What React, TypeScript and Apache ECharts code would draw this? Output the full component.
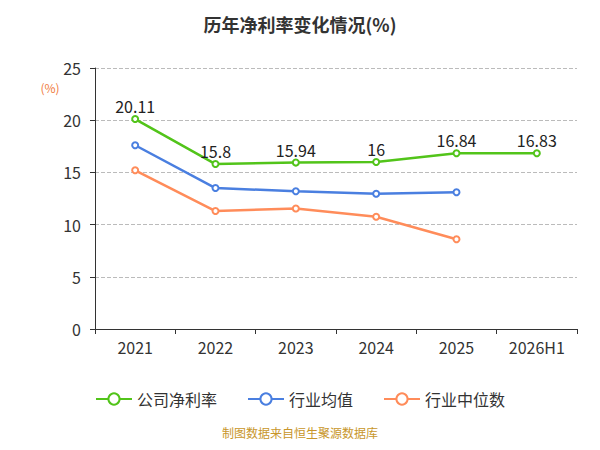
import React, { useEffect, useRef } from 'react'
import * as echarts from 'echarts'

const years = ['2021', '2022', '2023', '2024', '2025', '2026H1']
const companyMargin = [20.11, 15.8, 15.94, 16, 16.84, 16.83]
const industryAvg = [17.6, 13.5, 13.2, 12.95, 13.1, null]
const industryMedian = [15.2, 11.3, 11.55, 10.75, 8.6, null]

const font = 'Noto Sans CJK SC'

export default function App() {
  const chartRef = useRef(null)

  useEffect(() => {
    const chart = echarts.init(chartRef.current, null, { renderer: 'svg' })
    const line = (name: string, data: any[], color: string, labels: boolean) => ({
      name,
      type: 'line',
      data,
      symbol: 'emptyCircle',
      symbolSize: 6,
      itemStyle: { color },
      lineStyle: { color, width: 2.5 },
      label: labels
        ? { show: true, position: 'top', fontSize: 16, color: '#222', distance: 1, fontFamily: font }
        : { show: false },
    })
    chart.setOption({
      animation: false,
      textStyle: { fontFamily: font },
      title: {
        text: '历年净利率变化情况(%)',
        left: 'center',
        top: 2,
        textStyle: { fontSize: 18, fontWeight: 'bold', color: '#333', fontFamily: font },
      },
      grid: { left: 87, right: 15, top: 60, bottom: 113 },
      xAxis: {
        type: 'category',
        data: years,
        axisLine: { lineStyle: { color: '#333' } },
        axisTick: { show: true, lineStyle: { color: '#333' } },
        axisLabel: { fontSize: 16, color: '#333', margin: 10 },
      },
      yAxis: {
        type: 'value',
        min: 0,
        max: 25,
        interval: 5,
        name: '(%)',
        nameLocation: 'end',
        nameGap: 8,
        nameTextStyle: { color: '#f07a3c', fontSize: 12, padding: [0, 0, -34, -90] },
        axisLine: { show: true, lineStyle: { color: '#333' } },
        axisTick: { show: true },
        axisLabel: { fontSize: 16, color: '#333', margin: 14 },
        splitLine: { lineStyle: { type: 'dashed', color: '#bbb' } },
      },
      legend: {
        bottom: 30,
        itemWidth: 36,
        itemHeight: 14,
        itemGap: 30,
        textStyle: { fontSize: 16, color: '#333' },
        data: ['公司净利率', '行业均值', '行业中位数'],
      },
      graphic: [
        {
          type: 'text',
          left: 'center',
          bottom: 4,
          style: { text: '制图数据来自恒生聚源数据库', fill: '#c8962a', fontSize: 12, fontFamily: font },
        },
      ],
      series: [
        line('公司净利率', companyMargin, '#52c41a', true),
        line('行业均值', industryAvg, '#4a7fe0', false),
        line('行业中位数', industryMedian, '#ff8c5a', false),
      ],
    })
    return () => chart.dispose()
  }, [])

  return <div ref={chartRef} style={{ width: 584, height: 434 }} />
}
